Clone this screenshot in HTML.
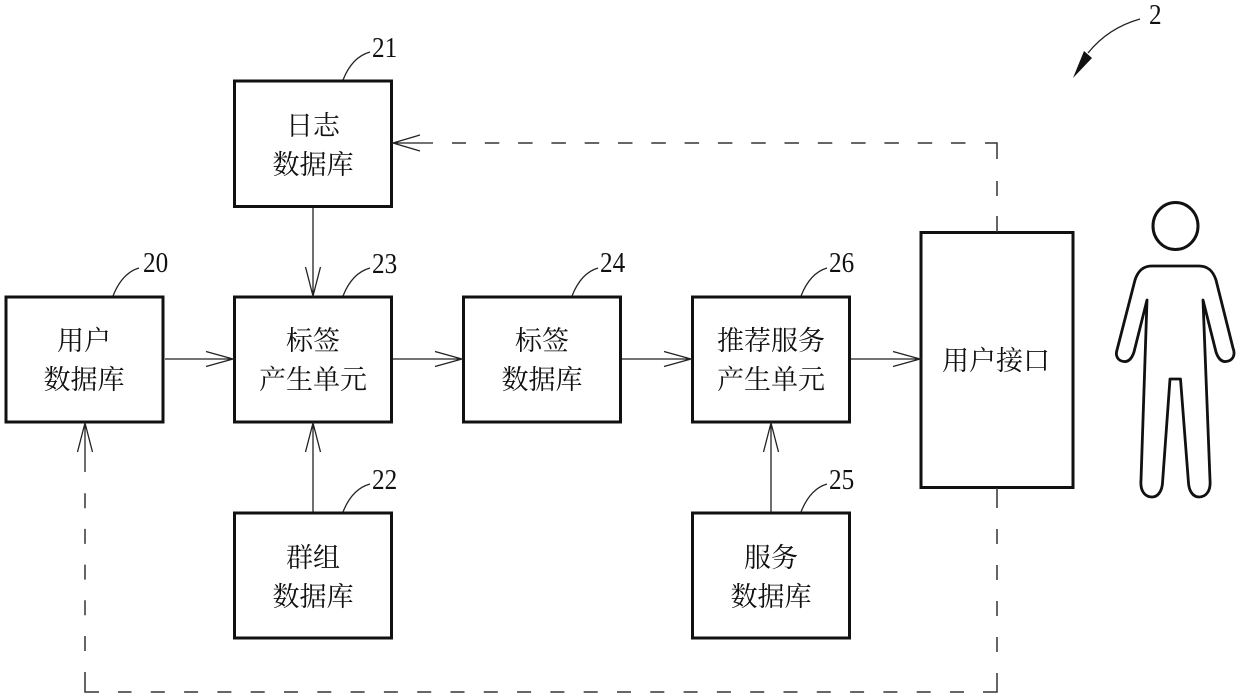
<!DOCTYPE html>
<html lang="zh">
<head>
<meta charset="utf-8">
<title>Diagram</title>
<style>
html,body{margin:0;padding:0;background:#fff;width:1240px;height:696px;overflow:hidden}
svg{display:block}
.b{fill:none;stroke:#111;stroke-width:3}
.l{fill:none;stroke:#222;stroke-width:1.3}
.d{fill:none;stroke:#333;stroke-width:1.5}
.t{font-family:"Liberation Serif","Noto Serif CJK SC",serif;font-size:27px;fill:#111;text-anchor:middle}
.n{font-family:"Liberation Serif",serif;font-size:28px;fill:#111}
</style>
</head>
<body>
<svg width="1240" height="696" viewBox="0 0 1240 696" xmlns="http://www.w3.org/2000/svg">
<rect width="1240" height="696" fill="#fff"/>

<!-- boxes -->
<rect class="b" x="6" y="297" width="157" height="125"/>
<rect class="b" x="234.500" y="81" width="157" height="125.500"/>
<rect class="b" x="234.500" y="297" width="157" height="125"/>
<rect class="b" x="463.500" y="297" width="157" height="125"/>
<rect class="b" x="692.500" y="297" width="157" height="125"/>
<rect class="b" x="234.500" y="513" width="157" height="125"/>
<rect class="b" x="692.500" y="513" width="157" height="125"/>
<rect class="b" x="921" y="232.500" width="152" height="255"/>

<!-- solid connectors -->
<path class="l" d="M165 359H233M206 351.500L233 359L206 366.500"/>
<path class="l" d="M393 359H462M435 351.500L462 359L435 366.500"/>
<path class="l" d="M622 359H691M664 351.500L691 359L664 366.500"/>
<path class="l" d="M851 359H920M893 351.500L920 359L893 366.500"/>
<path class="l" d="M313 208V296M305.500 267L313 296L320.500 267"/>
<path class="l" d="M313 512V423M305.500 452L313 423L320.500 452"/>
<path class="l" d="M771 512V423M763.500 452L771 423L778.500 452"/>

<!-- dashed feedback: top -->
<line class="d" x1="997" y1="232" x2="997" y2="216"/>
<line class="d" x1="997" y1="196" x2="997" y2="181"/>
<path class="d" d="M997 159V143H985"/>
<line class="d" x1="965.500" y1="143" x2="452" y2="143" stroke-dasharray="14.500 18.800"/>
<path class="l" d="M433 143H393M420 135L393 143L420 151"/>

<!-- dashed feedback: bottom -->
<line class="d" x1="997" y1="488" x2="997" y2="508"/>
<line class="d" x1="997" y1="529" x2="997" y2="672" stroke-dasharray="15 21"/>
<path class="d" d="M997 673V692H983"/>
<line class="d" x1="964" y1="692" x2="118" y2="692" stroke-dasharray="14 19.300"/>
<path class="d" d="M99 692H85V672"/>
<line class="d" x1="85" y1="651" x2="85" y2="493" stroke-dasharray="15 20.700"/>
<path class="l" d="M85 472V423M77.500 452L85 423L92.500 452"/>

<!-- reference leaders -->
<path class="l" d="M343 80Q352 57 370 52"/>
<path class="l" d="M343 296Q352 273 370 268"/>
<path class="l" d="M343 512Q352 489 370 484"/>
<path class="l" d="M113 296Q122 273 139 268"/>
<path class="l" d="M572 296Q581 273 598 268"/>
<path class="l" d="M801 296Q810 273 827 268"/>
<path class="l" d="M801 512Q810 489 827 484"/>

<!-- reference numbers -->
<text class="n" transform="translate(372 57) scale(.9 1)">21</text>
<text class="n" transform="translate(372 273) scale(.9 1)">23</text>
<text class="n" transform="translate(372 489) scale(.9 1)">22</text>
<text class="n" transform="translate(143 272) scale(.9 1)">20</text>
<text class="n" transform="translate(600 272) scale(.9 1)">24</text>
<text class="n" transform="translate(829 272) scale(.9 1)">26</text>
<text class="n" transform="translate(829 489) scale(.9 1)">25</text>
<text class="n" transform="translate(1149 24) scale(.9 1)">2</text>

<!-- system arrow -->
<path class="l" d="M1140 19Q1108 28 1088 53"/>
<path d="M1073 78L1084 51L1092 58Z" fill="#111"/>

<!-- box labels -->
<text class="t" x="313" y="135">日志</text>
<text class="t" x="313" y="174">数据库</text>
<text class="t" x="84" y="350">用户</text>
<text class="t" x="84" y="389">数据库</text>
<text class="t" x="313" y="350">标签</text>
<text class="t" x="313" y="389">产生单元</text>
<text class="t" x="542" y="350">标签</text>
<text class="t" x="542" y="389">数据库</text>
<text class="t" x="771" y="350">推荐服务</text>
<text class="t" x="771" y="389">产生单元</text>
<text class="t" x="313" y="567">群组</text>
<text class="t" x="313" y="606">数据库</text>
<text class="t" x="771" y="567">服务</text>
<text class="t" x="771" y="606">数据库</text>
<text class="t" x="996" y="370">用户接口</text>

<!-- person -->
<ellipse cx="1175.500" cy="226" rx="22.500" ry="23.500" fill="none" stroke="#111" stroke-width="3"/>
<path fill="none" stroke="#111" stroke-width="2.800" stroke-linejoin="round" d="M1152 266H1199C1208 266 1213 271 1216 280L1233 348C1236 356 1232 361 1226 361.500C1221 362 1218 358 1216 352L1203 300L1210 480C1211 491 1206 497 1199 497C1193 497 1189 491 1188.500 483L1180.500 379H1170L1162.500 483C1162 491 1158 497 1152 497C1145 497 1140 491 1141 480L1147 300L1134 352C1132 358 1129 362 1124 361.500C1118 361 1115 356 1117 350L1135 280C1138 271 1143 266 1152 266Z"/>
</svg>
</body>
</html>
